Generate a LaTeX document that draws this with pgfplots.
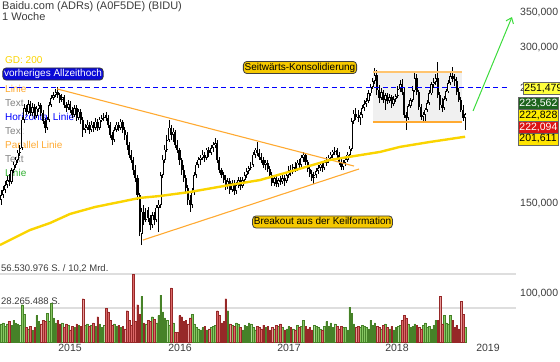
\documentclass[border=0pt]{standalone}
\usepackage{pgfplots}
\pgfplotsset{compat=1.18}
\usepackage{pgfplotstable}
\usepackage{fontspec}
\setmainfont{Liberation Sans}
\usetikzlibrary{arrows.meta}

\definecolor{gdgold}{RGB}{250,212,0}
\definecolor{wedge}{RGB}{255,170,50}
\definecolor{volred}{RGB}{220,105,105}
\definecolor{volredd}{RGB}{150,40,40}
\definecolor{volgreen}{RGB}{135,200,100}
\definecolor{volgreend}{RGB}{70,130,40}
\definecolor{boxgold}{RGB}{245,200,0}
\definecolor{txtgray}{RGB}{60,60,60}
\definecolor{lgray}{RGB}{130,130,130}
\definecolor{arrowgreen}{RGB}{60,220,60}

% weekly candles: index, open, high, low, close (thousands), volume (millions)
\pgfplotstableread{
i o h l c v
0 152.1 159.0 148.8 155.5 15
1 155.5 161.9 153.5 159.0 16
2 159.0 165.5 156.9 162.6 13
3 162.6 169.2 160.4 166.2 15
4 166.2 170.8 161.9 164.8 17
5 164.8 175.4 163.3 173.8 14
6 173.8 180.2 171.5 177.8 18
7 177.8 184.3 175.4 181.8 16
8 181.8 190.1 179.4 187.6 15
9 187.6 194.4 185.1 191.8 14
10 191.8 220.2 190.1 217.3 31
11 217.3 233.3 214.4 229.2 23
12 229.2 232.2 222.2 225.2 12
13 225.2 237.5 223.2 233.3 11
14 233.3 236.4 221.2 224.2 13
15 224.2 234.3 221.2 230.2 10
16 230.2 233.3 218.3 221.2 12
17 221.2 231.2 219.2 228.2 22
18 228.2 235.4 225.2 232.2 17
19 232.2 234.3 221.2 224.2 15
20 224.2 227.2 213.5 216.3 18
21 216.3 219.2 205.1 209.7 17
22 209.7 220.2 207.8 217.3 24
23 217.3 235.4 215.4 232.2 17
24 232.2 242.8 230.2 239.6 32
25 239.6 246.0 237.5 242.8 20
26 242.8 249.4 240.6 246.0 16
27 246.0 251.5 239.6 242.8 18
28 242.8 244.9 234.3 237.5 15
29 237.5 243.9 235.4 240.6 16
30 240.6 242.8 229.2 232.2 12
31 232.2 235.4 225.2 229.2 15
32 229.2 237.5 227.2 233.3 14
33 233.3 236.4 224.2 227.2 10
34 227.2 230.2 219.2 222.2 13
35 222.2 232.2 220.2 229.2 12
36 229.2 232.2 216.3 219.2 15
37 219.2 228.2 217.3 225.2 14
38 225.2 228.2 213.5 217.3 13
39 217.3 220.2 201.4 207.8 36
40 207.8 213.5 205.1 209.7 14
41 209.7 217.3 207.8 212.5 15
42 212.5 215.4 204.2 207.8 13
43 207.8 216.3 206.0 212.5 14
44 212.5 215.4 206.0 209.7 16
45 209.7 219.2 207.8 215.4 13
46 215.4 218.3 206.9 209.7 21
47 209.7 220.2 207.8 217.3 15
48 217.3 222.2 215.4 219.2 12
49 219.2 224.2 216.3 222.2 14
50 222.2 225.2 216.3 219.2 28
51 219.2 222.2 209.7 212.5 25
52 212.5 215.4 200.5 203.2 18
53 203.2 206.0 194.4 198.7 14
54 198.7 210.6 197.0 207.8 15
55 207.8 215.4 206.0 212.5 13
56 212.5 215.4 206.9 209.7 14
57 209.7 218.3 207.8 215.4 12
58 215.4 217.3 205.1 207.8 13
59 207.8 210.6 198.7 203.2 11
60 203.2 206.0 190.1 194.4 26
61 194.4 197.0 183.5 185.9 18
62 185.9 190.1 179.4 181.8 14
63 181.8 184.3 170.0 173.8 56
64 173.8 177.8 164.8 167.7 17
65 167.7 170.0 152.1 155.5 31
66 155.5 156.9 129.5 131.8 23
67 130.7 146.8 124.4 144.2 38
68 144.2 148.8 136.0 139.1 16
69 139.1 146.8 137.8 145.5 15
70 145.5 147.4 137.8 140.3 18
71 140.3 142.2 133.0 136.0 17
72 136.0 144.2 134.2 142.2 21
73 142.2 144.2 136.0 139.1 19
74 139.1 148.8 137.8 146.8 16
75 146.8 152.1 131.8 148.8 22
76 148.8 172.3 146.8 170.0 39
77 170.0 185.9 167.7 181.8 25
78 181.8 194.4 179.4 190.1 20
79 190.1 203.2 188.4 198.7 18
80 198.7 217.3 197.0 209.7 14
81 209.7 212.5 198.7 203.2 45
82 203.2 209.7 197.0 206.0 16
83 206.0 207.8 191.8 194.4 8
84 194.4 198.7 187.6 190.1 8
85 190.1 191.8 177.8 181.8 22
86 181.8 183.5 170.0 173.8 21
87 173.8 177.8 164.8 167.7 17
88 167.7 170.0 157.6 160.4 18
89 160.4 162.6 148.8 152.1 15
90 152.1 155.5 144.2 148.8 20
91 148.8 160.4 146.8 157.6 23
92 157.6 172.3 155.5 170.0 15
93 170.0 180.2 167.7 177.8 12
94 177.8 184.3 175.4 181.8 11
95 181.8 185.9 177.8 183.5 10
96 183.5 190.1 181.8 185.9 12
97 185.9 188.4 180.2 183.5 13
98 183.5 191.8 181.8 190.1 10
99 190.1 192.7 184.3 187.6 11
100 187.6 194.4 185.9 191.8 12
101 191.8 197.0 188.4 194.4 13
102 194.4 200.5 191.8 196.1 14
103 196.1 198.7 179.4 181.8 26
104 181.8 184.3 171.5 173.8 22
105 173.8 175.4 167.7 170.0 16
106 170.0 172.3 164.0 166.2 17
107 166.2 170.0 159.0 161.9 36
108 161.9 167.7 159.7 165.5 26
109 165.5 167.7 156.2 159.0 15
110 159.0 166.2 157.6 164.0 14
111 164.0 166.2 155.5 158.3 13
112 158.3 164.8 156.2 162.6 16
113 162.6 168.5 160.4 166.2 15
114 166.2 168.5 159.0 161.9 12
115 161.9 168.5 160.4 166.2 10
116 166.2 172.3 164.0 170.0 14
117 170.0 175.4 167.7 173.1 13
118 173.1 177.0 170.8 175.4 16
119 175.4 180.2 173.8 177.8 15
120 177.8 188.4 176.2 185.9 12
121 185.9 191.8 183.5 190.1 10
122 190.1 197.0 185.1 187.6 13
123 187.6 191.0 181.8 184.3 12
124 184.3 187.6 179.4 181.8 11
125 181.8 184.3 175.4 177.8 14
126 177.8 181.8 173.8 179.4 12
127 179.4 181.8 172.3 174.6 13
128 174.6 177.0 167.7 170.0 10
129 170.0 172.3 161.9 164.0 12
130 164.0 169.2 161.9 167.7 11
131 167.7 170.0 161.1 163.3 14
132 163.3 167.7 161.1 166.2 13
133 166.2 169.2 162.6 164.8 15
134 164.8 170.0 163.3 167.7 12
135 167.7 170.0 161.9 165.5 10
136 165.5 172.3 164.0 170.0 11
137 170.0 177.0 167.7 173.8 13
138 173.8 177.8 169.2 172.3 12
139 172.3 178.6 170.8 176.2 11
140 176.2 180.2 172.3 174.6 10
141 174.6 181.8 173.1 179.4 14
142 179.4 182.7 175.4 177.8 12
143 177.8 185.9 176.2 183.5 13
144 183.5 188.4 180.2 185.9 18
145 185.9 187.6 177.8 180.2 13
146 180.2 181.8 172.3 174.6 11
147 174.6 177.8 168.5 170.8 12
148 170.8 173.8 165.5 167.7 10
149 167.7 172.3 163.3 170.0 14
150 170.0 175.4 167.7 173.1 13
151 173.1 177.8 170.8 175.4 12
152 175.4 180.2 173.1 177.8 11
153 177.8 180.2 172.3 175.4 10
154 175.4 181.8 173.8 179.4 13
155 179.4 184.3 177.0 181.8 17
156 181.8 185.9 179.4 183.5 13
157 183.5 188.4 181.8 185.9 16
158 185.9 190.1 183.5 188.4 12
159 188.4 192.7 185.9 190.1 15
160 190.1 191.8 183.5 185.9 13
161 185.9 188.4 177.8 180.2 11
162 180.2 183.5 173.8 176.2 13
163 176.2 181.8 173.8 179.4 12
164 179.4 184.3 177.0 181.8 12
165 181.8 188.4 180.2 185.9 10
166 185.9 193.5 183.5 191.0 29
167 191.0 219.2 189.3 216.3 24
168 216.3 227.2 213.5 223.2 15
169 223.2 229.2 217.3 220.2 12
170 220.2 227.2 215.4 219.2 13
171 219.2 225.2 212.5 222.2 12
172 222.2 232.2 219.2 229.2 14
173 229.2 237.5 226.1 233.3 13
174 233.3 239.6 230.2 236.4 12
175 236.4 248.2 234.3 244.9 11
176 244.9 255.0 241.7 251.6 18
177 251.6 262.0 249.4 258.5 14
178 258.5 274.0 255.0 265.5 16
179 265.5 271.5 242.8 248.2 13
180 248.2 253.9 234.3 239.6 12
181 239.6 250.5 237.5 246.0 11
182 246.0 248.2 234.3 237.5 14
183 237.5 244.9 227.2 242.8 15
184 242.8 244.9 233.3 236.4 12
185 236.4 243.9 234.3 240.6 11
186 240.6 242.8 229.2 233.3 13
187 233.3 241.7 231.2 238.5 10
188 238.5 243.9 235.4 241.7 12
189 241.7 252.8 239.6 249.4 13
190 249.4 259.6 246.0 255.0 14
191 255.0 260.8 242.8 246.0 18
192 246.0 250.5 219.2 222.2 22
193 222.2 225.2 207.8 219.2 20
194 219.2 233.3 217.3 231.2 15
195 231.2 239.6 229.2 237.5 12
196 237.5 252.8 235.4 248.2 13
197 248.2 267.9 246.0 262.0 15
198 262.0 266.7 242.8 246.0 14
199 246.0 248.2 227.2 230.2 12
200 230.2 233.3 217.3 220.2 11
201 220.2 225.2 214.4 222.2 14
202 222.2 229.2 215.4 227.2 16
203 227.2 237.5 225.2 234.3 12
204 234.3 248.2 232.2 244.9 13
205 244.9 257.3 242.8 255.0 11
206 255.0 262.0 250.5 257.3 14
207 257.3 266.7 253.9 262.0 18
208 262.0 281.4 239.6 242.8 18
209 242.8 246.0 227.2 232.2 38
210 232.2 239.6 225.2 229.2 15
211 229.2 241.7 227.2 238.5 22
212 238.5 249.4 236.4 247.1 16
213 247.1 259.6 244.9 256.2 15
214 256.2 269.1 253.9 264.3 22
215 264.3 275.2 257.3 260.8 18
216 260.8 266.7 252.8 258.5 12
217 258.5 263.1 242.8 246.0 14
218 246.0 250.5 235.4 237.5 11
219 237.5 240.6 225.2 227.2 34
220 227.2 232.2 216.3 219.2 23
221 219.2 224.2 207.8 222.8 12
}\candles

% GD 200 (200-day moving average)
\pgfplotstableread{
x p
-0.48 124.4
13.8 133.0
23.3 137.2
32.9 142.9
44.8 147.4
66.2 153.5
75.7 154.8
90 157.6
109 162.6
123.3 166.2
135.2 171.5
156.7 181.8
180.5 188.4
190 192.7
204.3 197.0
221 201.6
}\gdline

\pgfplotstableread{
x p
-0.476 251.479
240.95 251.479
}\athline

\pgfplotstableread{
x p
26.7 249.5
168.1 176.9
}\wedgeup

\pgfplotstableread{
x p
67.6 127.2
170.5 174.6
}\wedgelow

\pgfplotstableread{
x p
177.1 215.3
219.5 215.3
219.5 269.0
177.1 269.0
}\consbox

\pgfplotstableread{
x p
177.1 269.0
219.5 269.0
}\constop

\pgfplotstableread{
x p
177.1 215.3
219.5 215.3
}\consbot

\pgfplotstableread{
x p
224.8 226.2
243.3 343.8
}\greenarrow

\begin{document}
\begin{tikzpicture}
\path[use as bounding box] (0,0) rectangle (560bp,362bp);

% background labels (beneath the chart)
\begin{scope}[shift={(0bp,362bp)}, x=1bp, y=-1bp, font=\fontsize{10bp}{12bp}\selectfont]
  \node[anchor=base west, inner sep=0pt, text=txtgray, font=\fontsize{11bp}{13bp}\selectfont] at (2,10) {Baidu.com (ADRs) (A0F5DE) (BIDU)};
  \node[anchor=base west, inner sep=0pt, text=txtgray, font=\fontsize{11bp}{13bp}\selectfont] at (2,21) {1 Woche};
  \node[anchor=base west, inner sep=0pt, text=gdgold] at (5,64) {GD: 200};
  \node[anchor=base west, inner sep=0pt, text=wedge] at (5,92.5) {Linie};
  \node[anchor=base west, inner sep=0pt, text=lgray] at (5,106.5) {Text};
  \node[anchor=base west, inner sep=0pt, text=blue] at (5,120.5) {Horizontal Linie};
  \node[anchor=base west, inner sep=0pt, text=lgray] at (5,134.5) {Text};
  \node[anchor=base west, inner sep=0pt, text=wedge] at (5,148.5) {Parallel Linie};
  \node[anchor=base west, inner sep=0pt, text=lgray] at (5,162.5) {Text};
  \node[anchor=base west, inner sep=0pt, text=arrowgreen!80!black] at (5,176.5) {Linie};
  \node[anchor=base west, inner sep=0pt, text=txtgray, font=\fontsize{9.5bp}{11bp}\selectfont] at (1,271.5) {56.530.976 S. / 10,2 Mrd.};
  \node[anchor=base west, inner sep=0pt, text=txtgray, font=\fontsize{9.5bp}{11bp}\selectfont] at (1,305) {28.265.488 S.};
\end{scope}

% volume panel
\begin{axis}[
  at={(0bp,20bp)}, anchor=south west,
  width=516bp, height=68bp, scale only axis,
  xmin=-0.476, xmax=245.24, ymin=0, ymax=56.530976,
  axis line style={draw=none}, tick style={draw=none},
  xtick=\empty, ytick={28.265488,56.530976}, yticklabels={},
  ymajorgrids, grid style={draw=black!13, line width=1.3bp},
  clip=false,
]
\addplot[ybar, bar width=1.6bp, bar shift=0pt, fill=volgreen, draw=volgreend, line width=0.3bp,
  restrict expr to domain={\thisrow{c}-\thisrow{o}}{0:1000}]
  table[x=i, y=v] {\candles};
\addplot[ybar, bar width=1.6bp, bar shift=0pt, fill=volred, draw=volredd, line width=0.3bp,
  restrict expr to domain={\thisrow{c}-\thisrow{o}}{-1000:-0.0001}]
  table[x=i, y=v] {\candles};
\end{axis}

% price panel (logarithmic price scale, drawn as ln of the price)
\begin{axis}[
  at={(0bp,20bp)}, anchor=south west,
  width=516bp, height=342bp, scale only axis,
  xmin=-0.476, xmax=245.24,
  ymin=4.39114, ymax=5.91589,
  axis line style={draw=none}, tick style={draw=none},
  xtick={32.86,85.24,137.14,188.57,231.9},
  xticklabels={2015,2016,2017,2018,2019},
  xticklabel style={text=txtgray, font=\fontsize{10.5bp}{12bp}\selectfont, yshift=1bp},
  ytick={4.605170,5.010635,5.298317,5.521461,5.703782,5.857933},
  yticklabels={{100,000},{150,000},{200,000},{250,000},{300,000},{350,000}},
  ytick pos=right,
  yticklabel style={anchor=west, inner sep=0pt, xshift=4bp, text=txtgray, font=\fontsize{10.5bp}{12bp}\selectfont},
]
% consolidation box
\addplot[fill=black!6, draw=none] table[x=x, y expr={ln(\thisrow{p})}] {\consbox};

% wicks
\addplot[draw=none, mark=none,
  error bars/.cd, y dir=plus, y explicit, error mark=none,
  error bar style={draw=black, line width=0.85bp}]
  table[x=i, y expr={ln(\thisrow{l})}, y error plus expr={ln(\thisrow{h})-ln(\thisrow{l})}] {\candles};
% down candle bodies (filled)
\addplot[draw=none, mark=none,
  restrict expr to domain={\thisrow{c}-\thisrow{o}}{-1000:-0.0001},
  error bars/.cd, y dir=plus, y explicit, error mark=none,
  error bar style={draw=black, line width=2.1bp}]
  table[x=i, y expr={ln(\thisrow{c})}, y error plus expr={ln(\thisrow{o})-ln(\thisrow{c})}] {\candles};
% up candle bodies (hollow)
\addplot[draw=none, mark=none,
  restrict expr to domain={\thisrow{c}-\thisrow{o}}{0:1000},
  error bars/.cd, y dir=plus, y explicit, error mark=none,
  error bar style={draw=black, line width=2.1bp}]
  table[x=i, y expr={ln(\thisrow{o})}, y error plus expr={ln(\thisrow{c})-ln(\thisrow{o})}] {\candles};
\addplot[draw=none, mark=none,
  restrict expr to domain={\thisrow{c}-\thisrow{o}}{0:1000},
  error bars/.cd, y dir=plus, y explicit, error mark=none,
  error bar style={draw=white, line width=0.75bp}]
  table[x=i, y expr={ln(\thisrow{o})+0.0025}, y error plus expr={max(ln(\thisrow{c})-ln(\thisrow{o})-0.005,0)}] {\candles};

% previous all-time high
\addplot[blue, line width=1bp, dash pattern=on 5bp off 3.5bp] table[x=x, y expr={ln(\thisrow{p})}] {\athline};
% wedge
\addplot[wedge, line width=1.1bp] table[x=x, y expr={ln(\thisrow{p})}] {\wedgeup};
\addplot[wedge, line width=1.1bp] table[x=x, y expr={ln(\thisrow{p})}] {\wedgelow};
% consolidation range
\addplot[wedge!70, line width=1.6bp] table[x=x, y expr={ln(\thisrow{p})}] {\constop};
\addplot[wedge, line width=1.1bp] table[x=x, y expr={ln(\thisrow{p})}] {\consbot};
% GD 200
\addplot[gdgold, line width=2.4bp] table[x=x, y expr={ln(\thisrow{p})}] {\gdline};
% target arrow
\addplot[arrowgreen, line width=1bp, -{Straight Barb[length=5bp, width=8bp]}] table[x=x, y expr={ln(\thisrow{p})}] {\greenarrow};
\end{axis}

% annotations on top
\begin{scope}[shift={(0bp,362bp)}, x=1bp, y=-1bp, font=\fontsize{10bp}{12bp}\selectfont]
  \node[fill={rgb,255:red,10;green,10;blue,215}, draw=black!80, line width=0.8bp, rounded corners=3.5bp,
        text=white, inner sep=1.3bp, text height=7.5bp, text depth=2bp] at (53,74) {vorheriges Allzeithoch};
  \node[fill=boxgold, draw=black!75, line width=0.8bp, rounded corners=3.5bp,
        text=black, inner sep=1.3bp, text height=7.5bp, text depth=2bp] at (300,67.5) {Seitwärts-Konsolidierung};
  \node[fill=boxgold, draw=black!75, line width=0.8bp, rounded corners=3.5bp,
        text=black, inner sep=1.3bp, text height=7.5bp, text depth=2bp] at (322.5,222) {Breakout aus der Keilformation};
  \begin{scope}[font=\fontsize{10.5bp}{12bp}\selectfont, every node/.style={anchor=west, inner sep=1.2bp, draw=black!60, line width=0.5bp, text height=7.6bp, text depth=2bp, minimum height=11.5bp}]
    \node[fill={rgb,255:red,255;green,255;blue,60}, text=black] at (523,88.5) {251,479};
    \node[fill={rgb,255:red,30;green,100;blue,30}, text=white] at (518,103.5) {223,562};
    \node[fill={rgb,255:red,255;green,236;blue,0}, text=black] at (518,115.5) {222,828};
    \node[fill={rgb,255:red,220;green,20;blue,20}, text=white] at (518,127.5) {222,094};
    \node[fill={rgb,255:red,255;green,228;blue,0}, text=black] at (518,139.2) {201,611};
  \end{scope}
\end{scope}
\end{tikzpicture}
\end{document}
